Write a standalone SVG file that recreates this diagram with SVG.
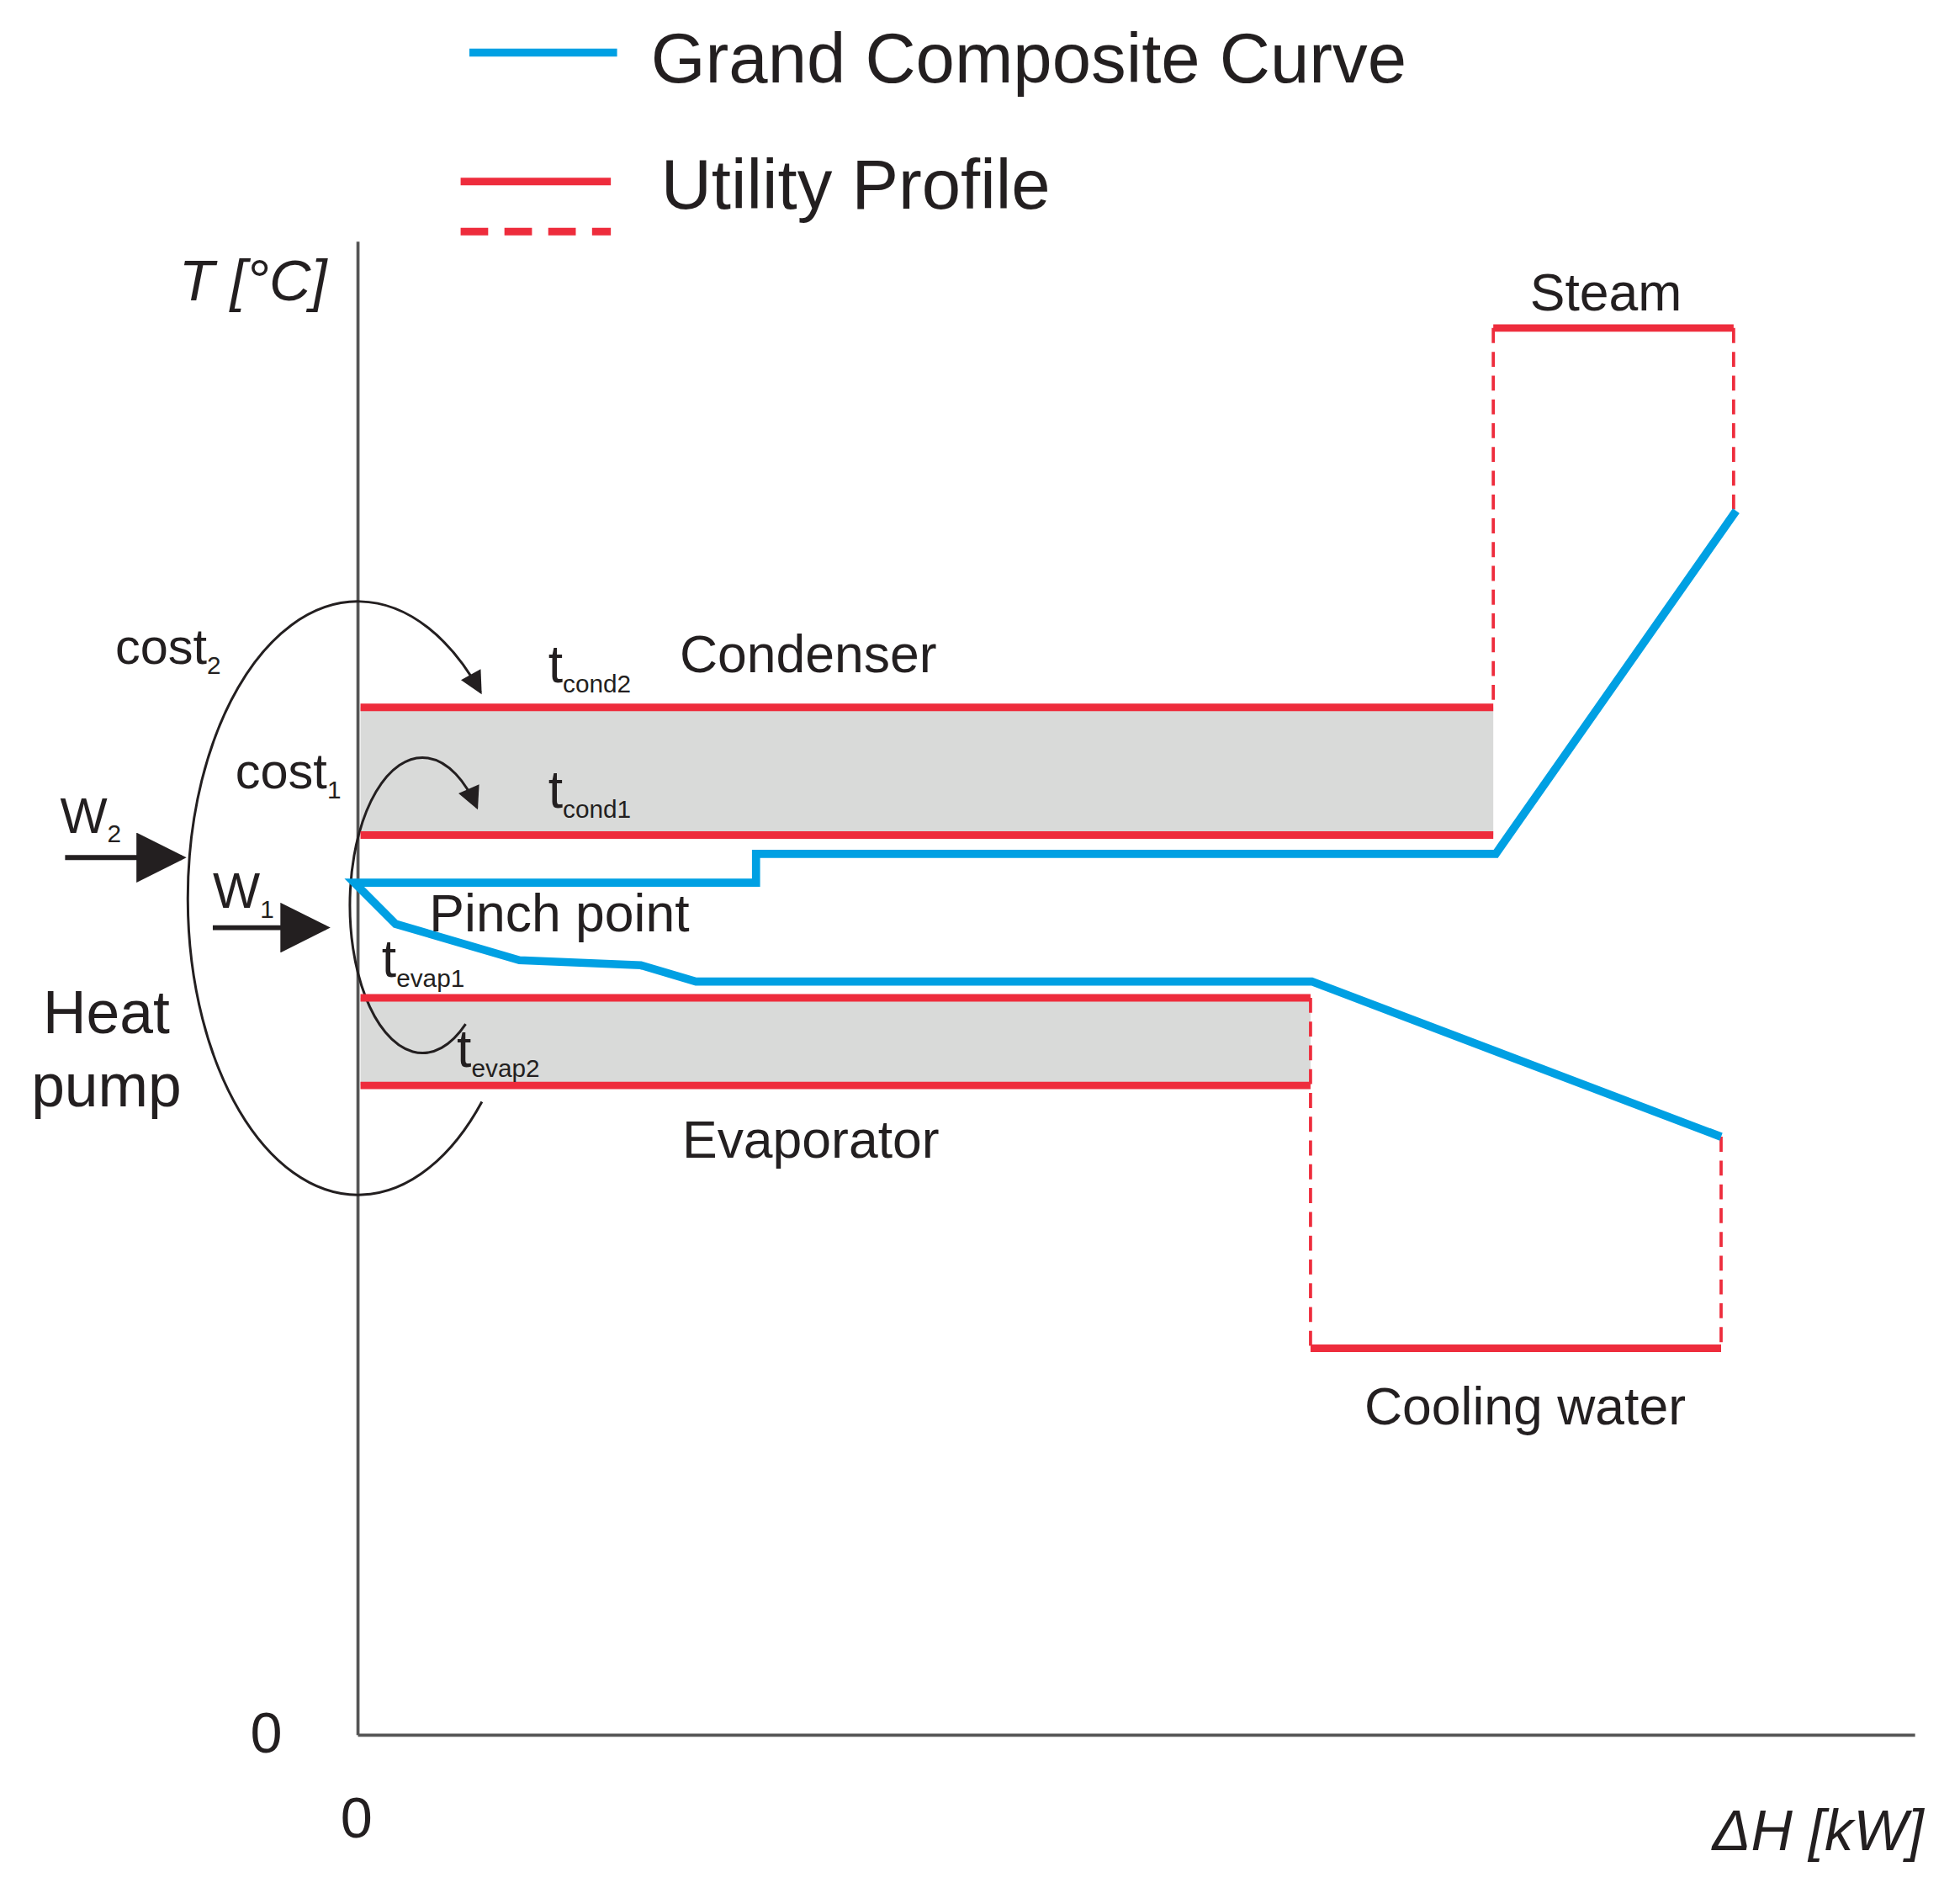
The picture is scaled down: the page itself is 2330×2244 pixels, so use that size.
<svg xmlns="http://www.w3.org/2000/svg" width="2330" height="2244" viewBox="0 0 2330 2244">
<defs>
<style>
.t{font-family:"Liberation Sans",Arial,sans-serif;fill:#231f20}
.red{stroke:#ee2c3c;stroke-width:6;fill:none}
.dash{stroke:#ee2c3c;stroke-width:2.5;fill:none;stroke-dasharray:12 7}
.blue{stroke:#00a0e3;stroke-width:6.5;fill:none;stroke-linejoin:miter}
.ax{stroke:#555;stroke-width:2.5;fill:none}
.loop{stroke:#231f20;stroke-width:2;fill:none}
.sub{font-size:20px}
</style>
<marker id="ah" viewBox="0 0 10 10" refX="9" refY="5" markerWidth="22" markerHeight="18" markerUnits="userSpaceOnUse" orient="auto"><path d="M0,0L10,5L0,10z" fill="#231f20"/></marker>
<marker id="ah2" viewBox="0 0 10 10" refX="9" refY="5" markerWidth="10" markerHeight="10" markerUnits="strokeWidth" orient="auto"><path d="M0,0L10,5L0,10z" fill="#231f20"/></marker>
</defs>
<rect width="2330" height="2244" fill="#fff"/>
<g transform="scale(1.488)">
<g id="legend">
<line x1="375" y1="42" x2="493" y2="42" class="blue"/>
<text x="520" y="66" class="t" font-size="56">Grand Composite Curve</text>
<line x1="368" y1="145" x2="488" y2="145" class="red"/>
<line x1="368" y1="185" x2="488" y2="185" class="red" stroke-dasharray="22 13"/>
<text x="528" y="167" class="t" font-size="56">Utility Profile</text>
</g>
<g id="bands">
<rect x="288" y="565" width="905" height="102" fill="#d9dad9"/>
<rect x="288" y="797" width="759" height="70" fill="#d9dad9"/>
</g>
<g id="axes">
<line x1="286" y1="193" x2="286" y2="1386" class="ax"/>
<line x1="286" y1="1386" x2="1530" y2="1386" class="ax"/>
<text x="143" y="240" class="t" font-size="46" font-style="italic">T [°C]</text>
<text x="200" y="1400" class="t" font-size="46">0</text>
<text x="272" y="1468" class="t" font-size="46">0</text>
<text x="1368" y="1478" class="t" font-size="46" font-style="italic">ΔH [kW]</text>
</g>
<g id="connectors">
<line x1="1193" y1="262" x2="1193" y2="565" class="dash"/>
<line x1="1385" y1="262" x2="1385" y2="408" class="dash"/>
<line x1="1047" y1="797" x2="1047" y2="1077" class="dash"/>
<line x1="1375" y1="908" x2="1375" y2="1077" class="dash"/>
<path d="M385,880 A136,237 0 1 1 384,553" class="loop" marker-end="url(#ah)"/>
<path d="M372,818 A58,118 0 1 1 381,645" class="loop" marker-end="url(#ah)"/>
<line x1="52" y1="685" x2="145" y2="685" stroke="#231f20" stroke-width="4" marker-end="url(#ah2)"/>
<line x1="170" y1="741" x2="260" y2="741" stroke="#231f20" stroke-width="4" marker-end="url(#ah2)"/>
</g>
<g id="steam">
<line x1="1193" y1="262" x2="1385" y2="262" class="red"/>
<text x="1283" y="248" class="t" font-size="42" text-anchor="middle">Steam</text>
</g>
<g id="condenser">
<line x1="288" y1="565" x2="1193" y2="565" class="red"/>
<line x1="288" y1="667" x2="1193" y2="667" class="red"/>
<text x="543" y="537" class="t" font-size="42">Condenser</text>
<text x="438" y="545" class="t" font-size="42">t<tspan class="sub" dy="8">cond2</tspan></text>
<text x="438" y="645" class="t" font-size="42">t<tspan class="sub" dy="8">cond1</tspan></text>
</g>
<g id="evaporator">
<line x1="288" y1="797" x2="1047" y2="797" class="red"/>
<line x1="288" y1="867" x2="1047" y2="867" class="red"/>
<text x="545" y="925" class="t" font-size="42">Evaporator</text>
<text x="305" y="780" class="t" font-size="42">t<tspan class="sub" dy="8">evap1</tspan></text>
<text x="365" y="852" class="t" font-size="42">t<tspan class="sub" dy="8">evap2</tspan></text>
</g>
<g id="cooling">
<line x1="1047" y1="1077" x2="1375" y2="1077" class="red"/>
<text x="1090" y="1138" class="t" font-size="42">Cooling water</text>
</g>
<g id="gcc">
<path d="M1387,408 L1195,682 L604,682 L604,705 L283,705 L316,738 L415,767 L512,771 L556,784 L1048,784 L1375,908" class="blue"/>
<text x="343" y="744" class="t" font-size="42">Pinch point</text>
</g>
<g id="heatpump">
<text x="92" y="530" class="t" font-size="40">cost<tspan class="sub" dy="8">2</tspan></text>
<text x="188" y="630" class="t" font-size="40">cost<tspan class="sub" dy="8">1</tspan></text>
<text x="48" y="665" class="t" font-size="40">W<tspan class="sub" dy="8">2</tspan></text>
<text x="170" y="725" class="t" font-size="40">W<tspan class="sub" dy="8">1</tspan></text>
<text x="85" y="825" class="t" font-size="48" text-anchor="middle">Heat</text>
<text x="85" y="884" class="t" font-size="48" text-anchor="middle">pump</text>
</g>
</g>
</svg>
